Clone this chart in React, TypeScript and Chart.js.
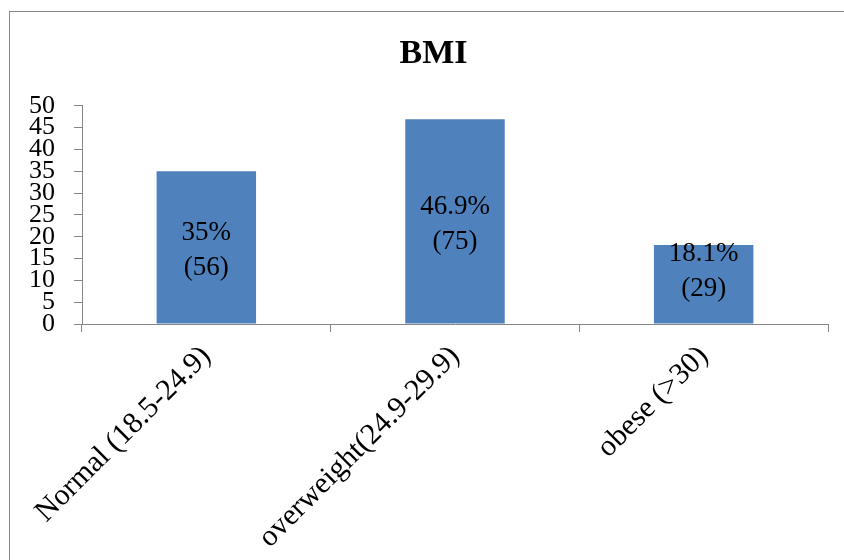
import React, { useEffect, useRef } from "react";
import { Chart, registerables } from "chart.js";

Chart.register(...registerables);

const categories = ["Normal (18.5-24.9)", "overweight(24.9-29.9)", "obese (>30)"];
const values = [35, 46.9, 18.1];
const percentLabels = ["35%", "46.9%", "18.1%"];
const countLabels = ["(56)", "(75)", "(29)"];
const titleText = "BMI";

const SERIF = "'Liberation Serif', 'Times New Roman', serif";
const AXIS_GRAY = "#868686";

const framePlugin = {
  id: "frame",
  afterLayout(chart: any) {
    // centre the title on the outer frame rather than the padded canvas
    const t = chart.titleBlock;
    if (t) {
      t.left = 39;
      t.width = t.right - t.left;
    }
  },
  beforeDraw(chart: any) {
    const { ctx, width, height } = chart;
    ctx.save();
    ctx.fillStyle = "#ffffff";
    ctx.fillRect(0, 0, width, height);
    ctx.strokeStyle = "#878787";
    ctx.lineWidth = 1;
    ctx.strokeRect(9.5, 11.5, width + 20, height + 20);
    ctx.restore();
  },
};

const barLabelPlugin = {
  id: "barLabels",
  afterDatasetsDraw(chart: any) {
    const { ctx } = chart;
    const meta = chart.getDatasetMeta(0);
    ctx.save();
    ctx.fillStyle = "#000000";
    ctx.font = `27px ${SERIF}`;
    ctx.textAlign = "center";
    ctx.textBaseline = "middle";
    const lineGap = 35;
    meta.data.forEach((bar: any, i: number) => {
      const cx = bar.x;
      const h = bar.base - bar.y;
      // short bars: keep the label block hugging the top of the bar
      const cy = h < lineGap * 2 + 20 ? bar.y + lineGap * 0.75 : (bar.y + bar.base) / 2 + 3;
      ctx.fillText(percentLabels[i], cx, cy - lineGap / 2);
      ctx.fillText(countLabels[i], cx, cy + lineGap / 2);
    });
    ctx.restore();
  },
};

export default function App() {
  const canvasRef = useRef<HTMLCanvasElement | null>(null);

  useEffect(() => {
    if (!canvasRef.current) return;
    const chart = new Chart(canvasRef.current, {
      type: "bar",
      data: {
        labels: categories,
        datasets: [
          {
            data: values,
            backgroundColor: "#4f81bd",
            borderWidth: 0,
            barPercentage: 0.4,
            categoryPercentage: 1,
          },
        ],
      },
      options: {
        animation: false,
        responsive: false,
        devicePixelRatio: 1,
        layout: { padding: { left: 29, right: 16, top: 0, bottom: 2 } },
        plugins: {
          legend: { display: false },
          tooltip: { enabled: false },
          title: {
            display: true,
            text: titleText,
            color: "#000000",
            font: { family: SERIF, size: 34, weight: "bold" },
            padding: { top: 34, bottom: 31 },
          },
        },
        scales: {
          x: {
            afterFit(scale: any) {
              scale.paddingLeft = 0;
              scale.paddingRight = 0;
              scale.height = 234;
            },
            grid: {
              display: true,
              drawOnChartArea: false,
              drawTicks: true,
              tickLength: 8,
              tickColor: AXIS_GRAY,
              offset: true,
            },
            border: { display: true, color: AXIS_GRAY, width: 1 },
            ticks: {
              color: "#000000",
              font: { family: SERIF, size: 30 },
              minRotation: 45,
              maxRotation: 45,
              autoSkip: false,
              padding: 7,
            },
          },
          y: {
            min: 0,
            max: 50,
            afterFit(scale: any) {
              scale.width = 53;
            },
            grid: {
              display: true,
              drawOnChartArea: false,
              drawTicks: true,
              tickLength: 8,
              tickColor: AXIS_GRAY,
            },
            border: { display: true, color: AXIS_GRAY, width: 1 },
            ticks: {
              stepSize: 5,
              autoSkip: false,
              color: "#000000",
              font: { family: SERIF, size: 26, lineHeight: 1 },
              padding: 19,
            },
          },
        },
      },
      plugins: [framePlugin, barLabelPlugin],
    });
    return () => chart.destroy();
  }, []);

  return (
    <div style={{ position: "absolute", left: 0, top: 0, width: 844, height: 560 }}>
      <canvas ref={canvasRef} width={844} height={560} style={{ width: 844, height: 560, display: "block" }} />
    </div>
  );
}
